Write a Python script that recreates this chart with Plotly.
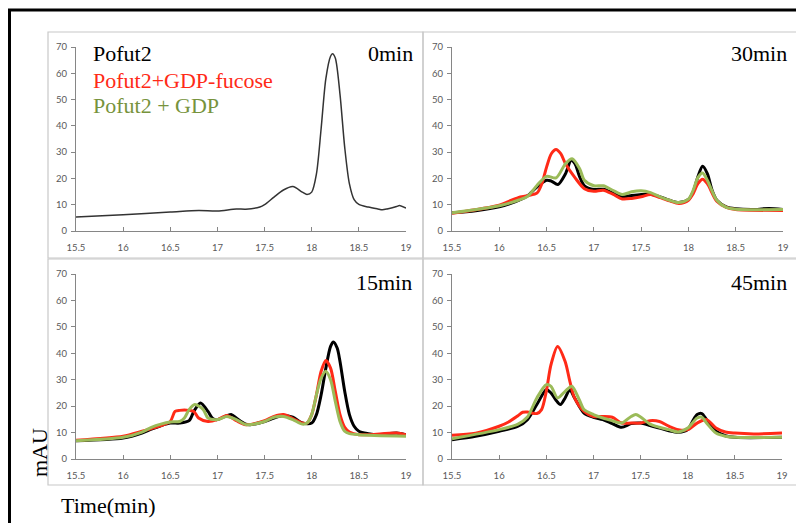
import plotly.graph_objects as go

# ---------------- data ----------------
# 0 min (only Pofut2)
t0 = [15.5, 16.0, 16.5, 16.8, 17.0, 17.2, 17.3, 17.45, 17.5, 17.6, 17.7, 17.8, 17.9, 17.95, 18.0,
      18.05, 18.1, 18.15, 18.2, 18.22, 18.25, 18.3, 18.35, 18.4, 18.45, 18.5, 18.6, 18.7, 18.75,
      18.8, 18.9, 18.93, 19.0]
black_0 = [5.3, 6.2, 7.2, 7.8, 7.6, 8.4, 8.3, 9.1, 10.0, 12.9, 15.6, 16.9, 14.8, 13.9, 14.8,
           21.7, 39.0, 58.0, 66.5, 67.4, 65.8, 52.0, 31.8, 17.9, 11.9, 10.1, 9.1, 8.4, 8.1,
           8.4, 9.3, 9.7, 8.7]

# 30 min
t30_black = [15.5, 15.75, 16.0, 16.1, 16.25, 16.3, 16.4, 16.5, 16.55, 16.62, 16.7, 16.76, 16.8, 16.85,
             16.9, 17.0, 17.1, 17.2, 17.3, 17.4, 17.5, 17.6, 17.7, 17.8, 17.9, 18.0, 18.05, 18.1,
             18.15, 18.2, 18.25, 18.3, 18.4, 18.5, 18.7, 18.85, 19.0]
black_30 = [6.9, 7.7, 9.2, 10.2, 12.4, 13.4, 16.8, 19.3, 19.0, 17.7, 21.8, 26.9, 25.6, 20.6,
            17.2, 15.8, 15.9, 14.5, 13.0, 13.5, 13.9, 14.0, 13.0, 11.7, 10.8, 12.0, 14.9, 20.6,
            24.6, 21.8, 15.5, 11.7, 9.2, 8.5, 8.2, 8.6, 8.2]
t30_red = [15.5, 16.0, 16.1, 16.2, 16.3, 16.4, 16.45, 16.5, 16.55, 16.6, 16.65, 16.7, 16.8, 16.9,
           17.0, 17.1, 17.2, 17.3, 17.4, 17.5, 17.6, 17.7, 17.8, 17.9, 18.0, 18.05, 18.1, 18.15,
           18.2, 18.3, 18.4, 18.5, 19.0]
red_30 = [6.7, 9.8, 11.3, 12.7, 13.4, 14.5, 18.0, 24.3, 29.4, 31.0, 29.4, 25.6, 20.3, 16.1,
          15.1, 15.5, 14.0, 12.2, 12.4, 13.0, 13.9, 12.7, 11.5, 10.5, 11.7, 14.2, 18.0, 19.7,
          18.0, 11.3, 9.0, 8.2, 7.8]
t30_green = [15.5, 16.0, 16.2, 16.3, 16.4, 16.5, 16.6, 16.7, 16.77, 16.85, 16.9, 17.0, 17.1, 17.2,
             17.3, 17.4, 17.5, 17.6, 17.7, 17.8, 17.9, 18.0, 18.05, 18.1, 18.15, 18.2, 18.3, 18.4,
             18.5, 19.0]
green_30 = [6.9, 9.6, 11.7, 13.2, 17.4, 20.8, 20.2, 25.6, 27.5, 23.7, 19.3, 17.2, 17.2, 15.5,
            13.9, 14.9, 15.3, 14.6, 13.0, 11.7, 10.8, 12.1, 15.5, 20.3, 22.1, 19.3, 11.7, 9.0,
            8.3, 8.2]

# 15 min
t15_black = [15.5, 16.0, 16.2, 16.3, 16.4, 16.5, 16.6, 16.7, 16.75, 16.82, 16.9, 16.95, 17.0, 17.1,
             17.15, 17.2, 17.3, 17.35, 17.5, 17.6, 17.7, 17.8, 17.9, 18.0, 18.05, 18.1, 18.15, 18.2,
             18.23, 18.27, 18.3, 18.35, 18.4, 18.45, 18.5, 18.6, 18.7, 18.9, 19.0]
black_15 = [6.9, 7.9, 9.8, 11.3, 12.6, 13.6, 13.6, 14.5, 18.0, 21.2, 18.0, 15.3, 14.9, 16.4,
            16.8, 15.5, 13.2, 13.0, 14.2, 15.5, 16.5, 15.8, 13.6, 13.6, 16.8, 24.3, 34.4, 42.6,
            44.3, 42.0, 36.9, 25.6, 16.8, 12.4, 10.5, 9.6, 9.2, 9.8, 9.2]
t15_red = [15.5, 16.0, 16.2, 16.3, 16.4, 16.5, 16.55, 16.6, 16.7, 16.75, 16.8, 16.9, 17.0, 17.1,
           17.2, 17.3, 17.5, 17.6, 17.7, 17.8, 17.9, 17.95, 18.0, 18.05, 18.1, 18.15, 18.2, 18.25,
           18.3, 18.35, 18.4, 18.5, 18.9, 19.0]
red_15 = [7.1, 8.6, 10.5, 11.5, 12.6, 14.2, 18.0, 18.4, 18.4, 18.0, 15.5, 14.2, 14.9, 16.5,
          14.5, 13.0, 14.5, 16.1, 16.8, 15.3, 13.6, 13.6, 16.8, 24.3, 33.2, 37.3, 34.4, 25.6,
          16.8, 12.0, 10.2, 9.2, 9.8, 9.2]
t15_green = [15.5, 16.0, 16.2, 16.3, 16.4, 16.5, 16.6, 16.65, 16.7, 16.76, 16.85, 16.9, 17.0, 17.1,
             17.2, 17.3, 17.5, 17.6, 17.7, 17.8, 17.9, 17.95, 18.0, 18.05, 18.1, 18.15, 18.2, 18.25,
             18.3, 18.35, 18.4, 18.5, 19.0]
green_15 = [6.9, 8.2, 10.2, 12.0, 13.2, 14.0, 14.2, 15.5, 18.7, 20.6, 18.7, 15.5, 14.9, 16.1,
            14.9, 13.0, 14.2, 15.8, 16.1, 14.9, 13.2, 13.6, 16.8, 24.3, 30.6, 33.2, 30.0, 21.8,
            14.2, 10.5, 9.6, 9.2, 8.6]

# 45 min
t45_black = [15.5, 15.75, 16.0, 16.2, 16.3, 16.4, 16.5, 16.55, 16.6, 16.65, 16.7, 16.75, 16.8, 16.9,
             17.0, 17.1, 17.2, 17.3, 17.4, 17.5, 17.6, 17.7, 17.8, 17.9, 18.0, 18.05, 18.1, 18.15,
             18.2, 18.3, 18.4, 18.5, 19.0]
black_45 = [7.3, 8.6, 10.5, 12.4, 14.9, 20.6, 26.2, 25.0, 22.4, 20.6, 23.1, 26.2, 23.1, 17.4,
            15.8, 14.9, 13.4, 12.0, 13.4, 13.6, 12.7, 11.7, 10.7, 10.1, 11.1, 14.2, 16.8, 17.2,
            14.9, 10.5, 8.8, 8.2, 8.2]
t45_red = [15.5, 15.75, 16.0, 16.1, 16.2, 16.25, 16.3, 16.4, 16.45, 16.5, 16.55, 16.62, 16.7, 16.75,
           16.8, 16.9, 17.0, 17.1, 17.2, 17.3, 17.4, 17.5, 17.6, 17.7, 17.8, 17.9, 18.0, 18.1,
           18.2, 18.3, 18.4, 18.5, 18.7, 19.0]
red_45 = [9.0, 9.8, 12.4, 14.0, 16.4, 17.7, 17.8, 17.2, 18.7, 25.6, 35.7, 42.6, 36.9, 29.4,
          23.1, 18.0, 16.1, 16.1, 15.8, 13.6, 13.6, 13.6, 14.5, 14.2, 12.4, 11.1, 11.1, 13.6,
          14.9, 11.7, 10.2, 9.8, 9.5, 9.8]
t45_green = [15.5, 16.0, 16.2, 16.3, 16.4, 16.5, 16.55, 16.62, 16.7, 16.77, 16.85, 16.9, 17.0, 17.1,
             17.2, 17.3, 17.4, 17.45, 17.5, 17.6, 17.7, 17.8, 17.9, 18.0, 18.1, 18.15, 18.2, 18.3,
             18.4, 18.5, 19.0]
green_45 = [7.7, 11.1, 13.2, 15.9, 23.1, 28.1, 27.5, 23.1, 25.6, 27.5, 22.4, 18.7, 16.8, 15.5,
            14.5, 13.6, 16.1, 16.8, 15.9, 13.2, 12.0, 11.1, 10.2, 11.7, 15.5, 15.8, 13.6, 9.8,
            8.6, 8.2, 8.2]

x_ticks = [15.5, 16, 16.5, 17, 17.5, 18, 18.5, 19]
x_tick_labels = ["15.5", "16", "16.5", "17", "17.5", "18", "18.5", "19"]
y_ticks = [0, 10, 20, 30, 40, 50, 60, 70]
panel_titles = ["0min", "30min", "15min", "45min"]
legend_names = ["Pofut2", "Pofut2+GDP-fucose", "Pofut2 + GDP"]

BLACK = "#000000"
RED = "#ff2a17"
GREEN = "#9bbb59"
GREEN_TXT = "#77933c"

W, H = 804, 523
OFF = 8  # the page body margin shifts the figure by 8px

def px(x):
    return (x - OFF) / W

def py(y):
    return 1 - (y - OFF) / H

fig = go.Figure()

def add(xs, ys, color, axis, width=3):
    fig.add_trace(go.Scatter(x=xs, y=ys, mode="lines", line=dict(color=color, width=width, shape="spline", smoothing=0.8),
                             xaxis="x" + axis, yaxis="y" + axis, showlegend=False, hoverinfo="skip"))

add(t0, black_0, "#333333", "", width=1.5)
add(t30_black, black_30, BLACK, "2")
add(t30_red, red_30, RED, "2")
add(t30_green, green_30, GREEN, "2")
add(t15_black, black_15, BLACK, "3")
add(t15_red, red_15, RED, "3")
add(t15_green, green_15, GREEN, "3")
add(t45_black, black_45, BLACK, "4")
add(t45_red, red_45, RED, "4")
add(t45_green, green_45, GREEN, "4")

# plot areas (pixel boxes in page coordinates)
areas = {
    "": (76, 406, 47, 231),
    "2": (452, 783, 47, 231),
    "3": (76, 406, 274, 459),
    "4": (452, 782, 274, 459),
}
tickfont = dict(family="Lato, Liberation Sans, sans-serif", size=9.5, color="#595959")
layout = dict(width=W, height=H, margin=dict(l=0, r=0, t=0, b=0, pad=0, autoexpand=False),
              paper_bgcolor="white", plot_bgcolor="white", showlegend=False)
for k, (x0, x1, y0, y1) in areas.items():
    layout["xaxis" + k] = dict(domain=[px(x0), px(x1)], range=[15.5, 19], anchor="y" + k, automargin=False,
                               tickvals=x_ticks, ticktext=x_tick_labels, showgrid=False, zeroline=False,
                               showline=True, linecolor="#868686", linewidth=1, ticks="inside", ticklen=4,
                               tickcolor="#868686", tickfont=tickfont, fixedrange=True, ticklabelstandoff=8)
    layout["yaxis" + k] = dict(domain=[py(y1), py(y0)], range=[0, 70], anchor="x" + k, automargin=False,
                               tickvals=y_ticks, showgrid=False, zeroline=False,
                               showline=True, linecolor="#868686", linewidth=1, ticks="outside", ticklen=4,
                               tickcolor="#868686", tickfont=tickfont, fixedrange=True, ticklabelstandoff=2)
fig.update_layout(**layout)

shapes = []
# panel boxes
for (bx0, bx1, by0, by1) in [(48, 423, 32, 258), (423, 800, 32, 258), (48, 423, 259, 485), (423, 800, 259, 485)]:
    shapes.append(dict(type="rect", xref="paper", yref="paper", x0=px(bx0), x1=px(bx1), y0=py(by1), y1=py(by0),
                       line=dict(color="#c8c8c8", width=1.2), layer="below"))
# outer black frame (top and left)
shapes.append(dict(type="line", xref="paper", yref="paper", x0=px(8), x1=px(803), y0=py(10), y1=py(10),
                   line=dict(color="black", width=3)))
shapes.append(dict(type="line", xref="paper", yref="paper", x0=px(9.5), x1=px(9.5), y0=py(9), y1=py(540),
                   line=dict(color="black", width=3)))
fig.update_layout(shapes=shapes)

serif = "Liberation Serif, Times New Roman, serif"
ann = []
for title, (xr, yc) in zip(panel_titles, [(415, 53), (789, 53), (414, 282), (789, 282)]):
    ann.append(dict(text=title, x=px(xr), y=py(yc), xref="paper", yref="paper", xanchor="right", yanchor="middle",
                    showarrow=False, font=dict(family=serif, size=22, color="black")))
for name, col, yc in zip(legend_names, [BLACK, RED, GREEN_TXT], [53, 80, 105]):
    ann.append(dict(text=name, x=px(91), y=py(yc), xref="paper", yref="paper", xanchor="left", yanchor="middle",
                    showarrow=False, font=dict(family=serif, size=22, color=col)))
ann.append(dict(text="mAU", x=px(39), y=py(453), xref="paper", yref="paper", xanchor="center", yanchor="middle",
                textangle=-90, showarrow=False, font=dict(family=serif, size=22, color="black")))
ann.append(dict(text="Time(min)", x=px(59), y=py(505), xref="paper", yref="paper", xanchor="left", yanchor="middle",
                showarrow=False, font=dict(family=serif, size=22, color="black")))
fig.update_layout(annotations=ann)

fig.write_html("out.html")
